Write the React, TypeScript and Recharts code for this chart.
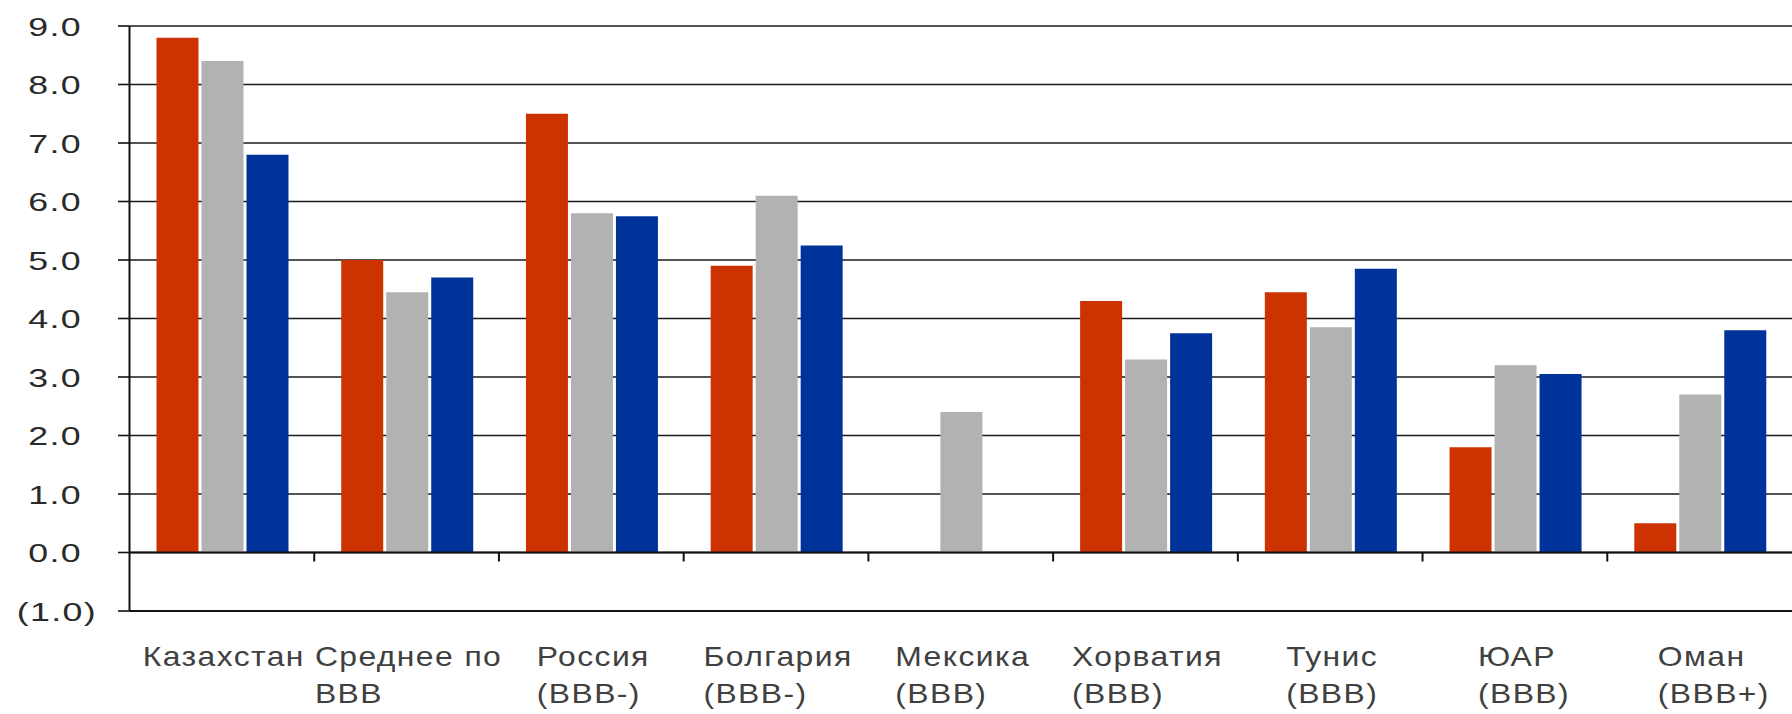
import { BarChart, Bar, XAxis, YAxis, CartesianGrid, ReferenceLine } from "recharts";

const categories = [
  "Казахстан",
  "Среднее по\nBBB",
  "Россия\n(BBB-)",
  "Болгария\n(BBB-)",
  "Мексика\n(BBB)",
  "Хорватия\n(BBB)",
  "Тунис\n(BBB)",
  "ЮАР\n(BBB)",
  "Оман\n(BBB+)",
];
const redValues = [8.8, 5.0, 7.5, 4.9, null, 4.3, 4.45, 1.8, 0.5];
const grayValues = [8.4, 4.45, 5.8, 6.1, 2.4, 3.3, 3.85, 3.2, 2.7];
const blueValues = [6.8, 4.7, 5.75, 5.25, null, 3.75, 4.85, 3.05, 3.8];
const yTicks = [-1, 0, 1, 2, 3, 4, 5, 6, 7, 8, 9];

const data = categories.map((name, i) => ({
  name,
  red: redValues[i],
  gray: grayValues[i],
  blue: blueValues[i],
}));

const LABEL_FONT = '"Liberation Sans", Arial, sans-serif';
const LABEL_SIZE = 27;
const LABEL_SPACING = 1.2;
const LABEL_SX = 1.18;

let ctx: CanvasRenderingContext2D | null = null;
function measure(s: string) {
  if (!ctx) ctx = document.createElement("canvas").getContext("2d");
  if (!ctx) return s.length * LABEL_SIZE * 0.55;
  ctx.font = `${LABEL_SIZE}px ${LABEL_FONT}`;
  return ctx.measureText(s).width + s.length * LABEL_SPACING;
}

function CategoryTick(props: any) {
  const { x, y, payload } = props;
  const lines = String(payload.value).split("\n");
  const w = measure(lines[0]) * LABEL_SX;
  const start = x + 2 - w / 2;
  return (
    <g transform={`translate(${start},${y}) scale(${LABEL_SX},1)`}>
      {lines.map((line, i) => (
        <text
          key={i}
          x={0}
          y={55 + i * 37}
          textAnchor="start"
          fill="#404040"
          fontFamily={LABEL_FONT}
          fontSize={LABEL_SIZE}
          letterSpacing={LABEL_SPACING}
        >
          {line}
        </text>
      ))}
    </g>
  );
}

function ValueTick(props: any) {
  const { x, y, payload } = props;
  const v = Number(payload.value);
  const label = v < 0 ? `(${Math.abs(v).toFixed(1)})` : v.toFixed(1);
  const right = v < 0 ? x : x - 15;
  return (
    <g transform={`translate(${right},${y + 9.5}) scale(1.35,1)`}>
      <text
        x={0}
        y={0}
        textAnchor="end"
        fill="#2a2a2a"
        fontFamily={LABEL_FONT}
        fontSize={26.5}
        letterSpacing={1}
      >
        {label}
      </text>
    </g>
  );
}

function ZeroLine(props: any) {
  const { x1, y1, x2 } = props;
  const step = (x2 - x1) / categories.length;
  return (
    <g>
      <line x1={x1} y1={y1} x2={x2} y2={y1} stroke="#111" strokeWidth={2} />
      {categories.slice(1).map((_, i) => {
        const tx = x1 + step * (i + 1);
        return <line key={i} x1={tx} y1={y1} x2={tx} y2={y1 + 9} stroke="#111" strokeWidth={2} />;
      })}
    </g>
  );
}

export default function App() {
  return (
    <div style={{ position: "absolute", left: 0, top: 0, width: 1792, height: 714, background: "#fff" }}>
      <BarChart
        width={1792}
        height={714}
        data={data}
        margin={{ top: 26, right: 0, bottom: 0, left: 0 }}
        barCategoryGap={27}
        barGap={3}
      >
        <CartesianGrid vertical={false} stroke="#1a1a1a" strokeWidth={1.6} />
        <XAxis
          dataKey="name"
          interval={0}
          height={103}
          tickLine={false}
          tickSize={0}
          tickMargin={0}
          axisLine={{ stroke: "#111", strokeWidth: 2 }}
          tick={<CategoryTick />}
        />
        <YAxis
          type="number"
          domain={[-1, 9]}
          ticks={yTicks}
          interval={0}
          width={129.5}
          tickSize={11.5}
          tickMargin={21}
          axisLine={{ stroke: "#111", strokeWidth: 2 }}
          tickLine={{ stroke: "#111", strokeWidth: 1.6 }}
          tick={<ValueTick />}
        />
        <Bar dataKey="red" fill="#cc3300" isAnimationActive={false} />
        <Bar dataKey="gray" fill="#b2b2b2" isAnimationActive={false} />
        <Bar dataKey="blue" fill="#003399" isAnimationActive={false} />
        <ReferenceLine y={0} shape={<ZeroLine />} />
      </BarChart>
    </div>
  );
}
